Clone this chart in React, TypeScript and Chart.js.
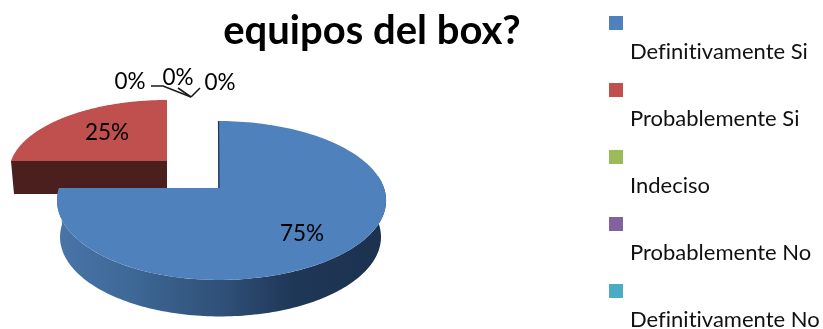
import React, { useEffect, useRef } from "react";
import { Chart, registerables } from "chart.js";

Chart.register(...registerables);

// Survey answers and their shares, in percent
const answers = ["Definitivamente Si", "Probablemente Si", "Indeciso", "Probablemente No", "Definitivamente No"];
const shares = [75, 25, 0, 0, 0];
const sliceColors = ["#4f81bd", "#c0504d", "#9bbb59", "#8064a2", "#4bacc6"];
const chartTitle = "equipos del box?";

const FONT = "Lato, Carlito, sans-serif";

// Perspective applied to each slice's flat geometry, relative to the pie's own centre and radius.
// Red is pulled out of the pie, hence its own centre and smaller reach.
type Tilt = {
  dx: number; dy: number; left: number; right: number; height: number; persp: number;
  depth: number; footShift: number; footLeft: number; footRight: number;
  gradient?: [number, string][]; wall: string;
};
const tilts: Record<number, Tilt> = {
  0: {
    dx: 0, dy: 0, left: 159, right: 166, height: 77.5, persp: 0.157,
    depth: 36.5, footShift: 2, footLeft: 158, footRight: 159, wall: "#1f3653",
    gradient: [[0, "#4874a8"], [0.22, "#3e6896"], [0.52, "#2e4e75"], [0.72, "#1f3757"], [1, "#1c314e"]],
  },
  1: {
    dx: -51, dy: -27, left: 156, right: 156, height: 70.6, persp: 0.157,
    depth: 33, footShift: 0, footLeft: 153, footRight: 153, wall: "#4b1f1d",
  },
};

// Value labels, placed relative to the pie centre
const labelSpots = [
  { dx: 84, dy: 46 },
  { dx: -111, dy: -55 },
  { dx: -88, dy: -106 },
  { dx: -40, dy: -110 },
  { dx: 2, dy: -105 },
];
// Leader lines from the three empty slices, relative to the pie centre
const leaders = [
  [[-67, -102], [-55, -102], [-27, -91]],
  [[-40, -100], [-27, -91]],
  [[-18, -100], [-27, -91]],
];

const legendLayout = { boxX: 609, boxSize: 14, firstBoxY: 16, step: 67, textX: 630, textDy: 43, fontSize: 22 };

function project(t: Tilt, cx: number, cy: number, a: number, foot: boolean): [number, number] {
  const u = Math.cos(a);
  const v = -Math.sin(a);
  const w = 1 + t.persp * v;
  const reach = foot ? (u > 0 ? t.footRight : t.footLeft) : u > 0 ? t.right : t.left;
  const x = cx + (foot ? t.footShift : 0) + (reach * u) / w;
  const y = cy + (foot ? t.depth : 0) - (t.height * v) / w;
  return [x, y];
}

const piePlugin = {
  id: "tiltedPie",
  beforeDatasetDraw(chart: any) {
    const { ctx } = chart;
    const arcs = chart.getDatasetMeta(0).data;
    // Far slices first so the big slice overlaps the pulled-out one
    [1, 0].forEach((i) => {
      const arc = arcs[i];
      const t = tilts[i];
      const { startAngle, endAngle } = arc.getProps(["startAngle", "endAngle"]);
      if (endAngle - startAngle <= 0) return;
      const cx = arc.x + t.dx;
      const cy = arc.y + t.dy;
      const steps = 160;
      const angleAt = (from: number, to: number, k: number) => from + ((to - from) * k) / steps;

      ctx.save();
      // Outer wall: only the stretch of rim that faces the viewer
      const from = Math.max(startAngle, -0.16);
      const to = Math.min(endAngle, Math.PI);
      if (to > from) {
        ctx.beginPath();
        for (let k = 0; k <= steps; k++) {
          const [x, y] = project(t, cx, cy, angleAt(from, to, k), false);
          k ? ctx.lineTo(x, y) : ctx.moveTo(x, y);
        }
        for (let k = steps; k >= 0; k--) {
          const [x, y] = project(t, cx, cy, angleAt(from, to, k), true);
          ctx.lineTo(x, y);
        }
        ctx.closePath();
        if (t.gradient) {
          const g = ctx.createLinearGradient(cx - t.left, 0, cx + t.right, 0);
          t.gradient.forEach(([s, c]) => g.addColorStop(s, c));
          ctx.fillStyle = g;
        } else {
          ctx.fillStyle = t.wall;
        }
        ctx.fill();
      }
      // Cut face on a radial edge turned towards the viewer
      if (Math.sin(startAngle - Math.PI / 2) > 0.01) {
        const [rx, ry] = project(t, cx, cy, startAngle, false);
        const [fx, fy] = project(t, cx, cy, startAngle, true);
        ctx.beginPath();
        ctx.moveTo(cx, cy);
        ctx.lineTo(rx, ry);
        ctx.lineTo(fx, fy);
        ctx.lineTo(cx + t.footShift, cy + t.depth);
        ctx.closePath();
        ctx.fillStyle = t.wall;
        ctx.fill();
      }
      // Top face
      ctx.beginPath();
      ctx.moveTo(cx, cy);
      for (let k = 0; k <= steps; k++) {
        const [x, y] = project(t, cx, cy, angleAt(startAngle, endAngle, k), false);
        ctx.lineTo(x, y);
      }
      ctx.closePath();
      ctx.fillStyle = arc.options.backgroundColor;
      ctx.fill();
      // Thin shaded sliver along the big slice's opening edge
      if (i === 0) {
        const [rx, ry] = project(t, cx, cy, startAngle, false);
        ctx.beginPath();
        ctx.moveTo(rx + 0.5, ry);
        ctx.lineTo(cx + 1, cy);
        ctx.strokeStyle = t.wall;
        ctx.lineWidth = 1.2;
        ctx.stroke();
      }
      ctx.restore();
    });
    return false;
  },
  afterDatasetsDraw(chart: any) {
    const { ctx } = chart;
    const arc = chart.getDatasetMeta(0).data[0];
    ctx.save();
    // Leader lines
    ctx.strokeStyle = "#1a1a1a";
    ctx.lineWidth = 1.6;
    leaders.forEach((pts) => {
      ctx.beginPath();
      pts.forEach(([dx, dy], k) => (k ? ctx.lineTo(arc.x + dx, arc.y + dy) : ctx.moveTo(arc.x + dx, arc.y + dy)));
      ctx.stroke();
    });
    // Value labels
    ctx.fillStyle = "#000";
    ctx.font = `22.5px ${FONT}`;
    ctx.textAlign = "center";
    ctx.textBaseline = "middle";
    shares.forEach((value, i) => {
      ctx.fillText(`${value}%`, arc.x + labelSpots[i].dx, arc.y + labelSpots[i].dy);
    });
    ctx.restore();
  },
  afterDraw(chart: any) {
    const { ctx } = chart;
    ctx.save();
    // Heading
    ctx.fillStyle = "#000";
    ctx.font = `bold 40px ${FONT}`;
    ctx.textAlign = "center";
    ctx.textBaseline = "alphabetic";
    ctx.fillText(chartTitle, 372, 44);
    // Legend: swatch on one line, its answer on the line beneath
    const L = legendLayout;
    ctx.font = `${L.fontSize}px ${FONT}`;
    ctx.textAlign = "left";
    (ctx as any).textRendering = "optimizeSpeed";
    answers.forEach((name, i) => {
      const y = L.firstBoxY + L.step * i;
      ctx.fillStyle = sliceColors[i];
      ctx.fillRect(L.boxX, y, L.boxSize, L.boxSize);
      ctx.fillStyle = "#111";
      ctx.fillText(name, L.textX, y + L.textDy);
    });
    ctx.restore();
  },
};

export default function App() {
  const ref = useRef<HTMLCanvasElement>(null);
  useEffect(() => {
    const chart = new Chart(ref.current!, {
      type: "pie",
      data: {
        labels: answers,
        datasets: [{ data: shares, backgroundColor: sliceColors, borderWidth: 0 }],
      },
      options: {
        animation: false,
        responsive: false,
        layout: { padding: { left: 77, right: 464, top: 47, bottom: 0 } },
        plugins: { legend: { display: false }, title: { display: false }, tooltip: { enabled: false } },
      },
      plugins: [piePlugin],
    });
    return () => chart.destroy();
  }, []);
  return (
    <canvas
      ref={ref}
      width={823}
      height={329}
      style={{ position: "fixed", left: 0, top: 0, width: 823, height: 329, background: "#fff" }}
    />
  );
}
